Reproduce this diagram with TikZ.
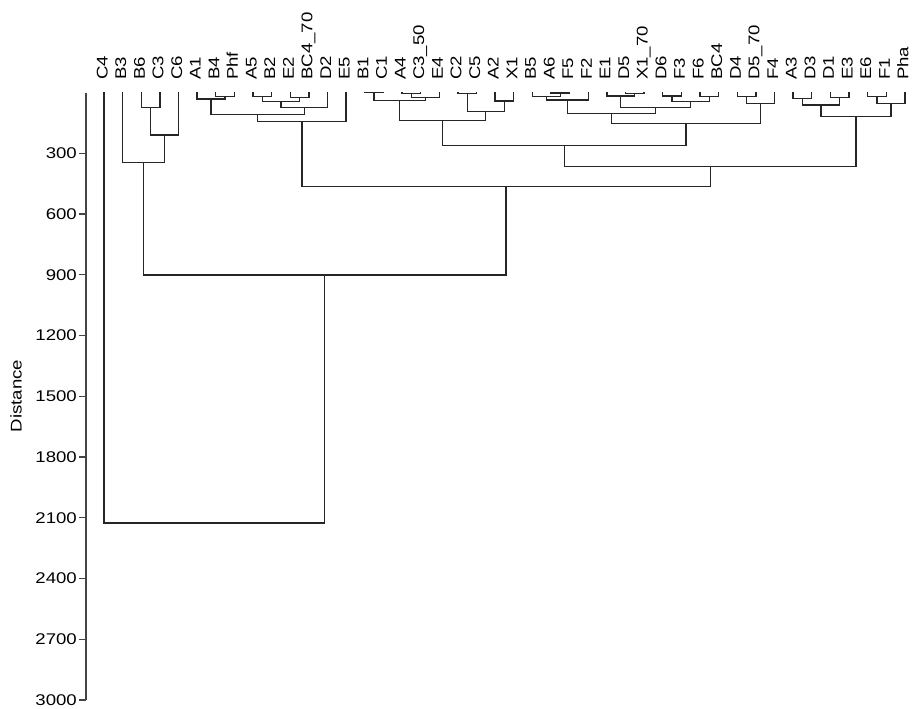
\documentclass[tikz,border=0pt]{standalone}
\usepackage{fontspec}
\setmainfont[FakeStretch=1.2]{Liberation Sans}
\usetikzlibrary{calc}
\definecolor{lncol}{HTML}{262626}
\definecolor{axcol}{HTML}{444444}
\tikzset{
  dline/.style={draw=lncol, line width=1.3pt, line cap=rect},
  axisline/.style={draw=axcol, line width=1.8pt},
  tickline/.style={draw=axcol, line width=1.3pt},
  leaf/.style={rotate=90, anchor=west, inner sep=0pt, text height=0.72em, text depth=0pt, font=\fontsize{15.5}{16}\selectfont},
  ticklab/.style={anchor=east, inner sep=0pt, font=\fontsize{15.5}{16}\selectfont},
}
\newcommand\dmerge[4]{%
  \coordinate (#1tmp) at ($(#2)!.5!(#3)$);
  \coordinate (#1) at (#1tmp |- 0,#4);
  \draw[dline] (#2) |- (#1) -| (#3);}
\begin{document}
\begin{tikzpicture}[x=1pt,y=-1pt]
\useasboundingbox (0,0) rectangle (914,709);
% leaves
\foreach \lab [count=\i] in {C4,B3,B6,C3,C6,A1,B4,Phf,A5,B2,E2,BC4\_70,D2,E5,B1,C1,A4,C3\_50,E4,C2,C5,A2,X1,B5,A6,F5,F2,E1,D5,X1\_70,D6,F3,F6,BC4,D4,D5\_70,F4,A3,D3,D1,E3,E6,F1,Pha}{
  \coordinate (l\i) at ({104+18.625*(\i-1)},92.6);
  \node[leaf] (t\i) at ([yshift=12.6pt]l\i) {\lab};
}
% C4..C6 cluster
\dmerge{m1}{l3}{l4}{107.7}
\dmerge{m2}{m1}{l5}{135}
\dmerge{m3}{l2}{m2}{162.3}
% A1..E5
\dmerge{m4}{l7}{l8}{96.7}
\dmerge{m5}{l6}{m4}{99}
\dmerge{m6}{l9}{l10}{96.5}
\dmerge{m7}{l11}{l12}{97.5}
\dmerge{m8}{m6}{m7}{101.7}
\dmerge{m9}{m8}{l13}{107.3}
\dmerge{m10}{m5}{m9}{114.3}
\dmerge{m11}{m10}{l14}{121.7}
% B1..X1
\dmerge{m12}{l15}{l16}{92.6}
\dmerge{m13}{l17}{l18}{93.3}
\dmerge{m14}{m13}{l19}{97.3}
\dmerge{m15}{m12}{m14}{100.6}
\dmerge{m16}{l20}{l21}{93.3}
\dmerge{m17}{l22}{l23}{101}
\dmerge{m18}{m16}{m17}{111.7}
\dmerge{m19}{m15}{m18}{120.7}
% B5..F4
\dmerge{m20}{l25}{l26}{93}
\dmerge{m21}{l24}{m20}{96.7}
\dmerge{m22}{m21}{l27}{100}
\dmerge{m23}{l29}{l30}{93.3}
\dmerge{m24}{l28}{m23}{96}
\dmerge{m25}{l31}{l32}{96}
\dmerge{m26}{l33}{l34}{96.7}
\dmerge{m27}{m25}{m26}{101.7}
\dmerge{m28}{m24}{m27}{107.3}
\dmerge{m29}{m22}{m28}{113.3}
\dmerge{m30}{l35}{l36}{96.7}
\dmerge{m31}{m30}{l37}{103.3}
\dmerge{m32}{m29}{m31}{123.7}
\dmerge{m33}{m19}{m32}{145.7}
% A3..Pha
\dmerge{m34}{l38}{l39}{98.3}
\dmerge{m35}{l40}{l41}{97.7}
\dmerge{m36}{m34}{m35}{105}
\dmerge{m37}{l42}{l43}{96.7}
\dmerge{m38}{m37}{l44}{103.3}
\dmerge{m39}{m36}{m38}{116.7}
% top levels
\dmerge{m40}{m33}{m39}{166.7}
\dmerge{m41}{m11}{m40}{186.5}
\dmerge{m42}{m3}{m41}{275}
\dmerge{m43}{l1}{m42}{523}
% axis
\coordinate (atop) at (86,92.6);
\coordinate (abot) at (86,700);
\draw[axisline] (atop) -- (abot);
\foreach \v in {300,600,...,3000}{
  \coordinate (ka\v) at (86,{92.6+\v*0.20247});
  \coordinate (kb\v) at (78.5,{92.6+\v*0.20247});
  \draw[tickline] (ka\v) -- (kb\v);
  \node[ticklab] (n\v) at ([xshift=-1.5pt]kb\v) {\v};
}
\node[rotate=90, inner sep=0pt, font=\fontsize{15.5}{16}\selectfont] (dist) at (16,396) {Distance};
\end{tikzpicture}
\end{document}
